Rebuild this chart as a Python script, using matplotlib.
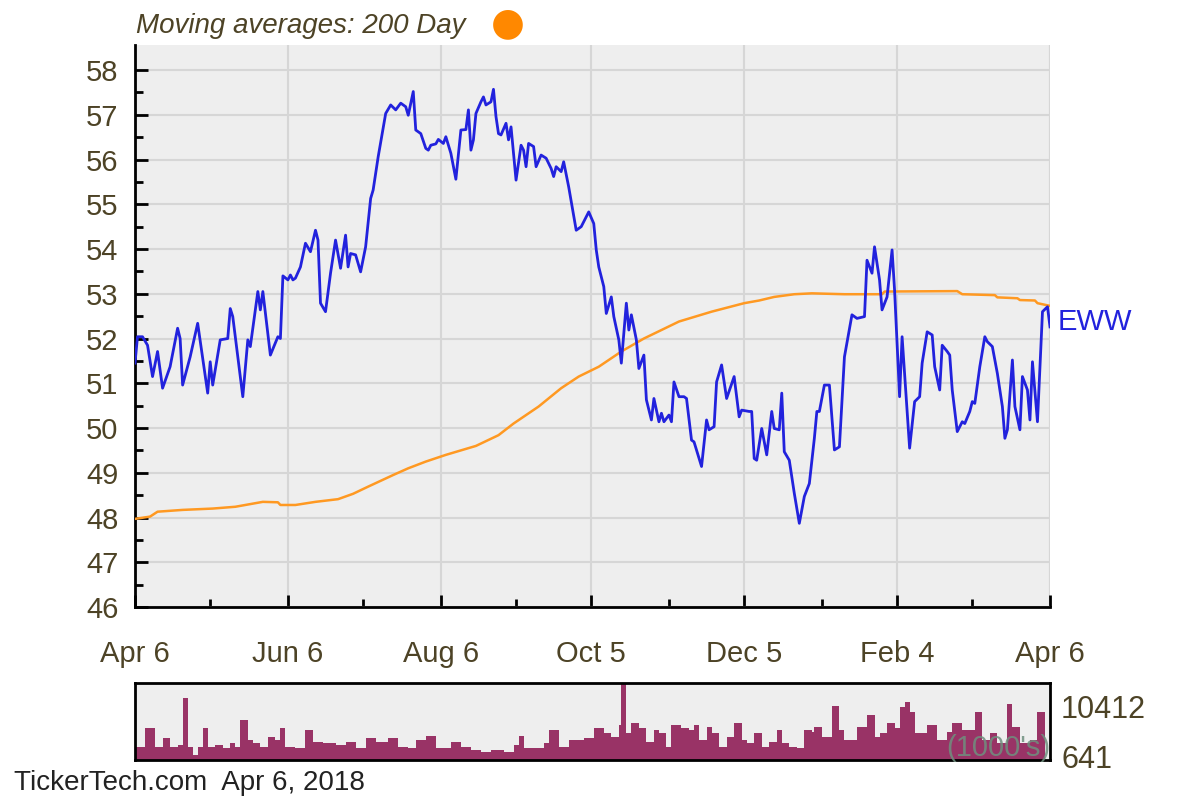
import numpy as np
import matplotlib
matplotlib.use("Agg")
import matplotlib.pyplot as plt
from matplotlib.ticker import FixedLocator, NullFormatter

# --- data (days after 2017-04-06) ---
start = np.datetime64("2017-04-06")

price_days = [0, 1, 3, 5, 7, 9, 11, 14, 17, 18, 19, 22, 25, 29, 30, 31, 34, 37, 38, 39,
              43, 45, 46, 49, 50, 51, 54, 57, 58, 59, 61, 62, 63, 64, 66, 68, 70, 72, 73, 74,
              76, 78, 80, 82, 84, 85, 86, 88, 90, 92, 94, 95, 97, 100, 102, 104, 106, 108, 109, 111,
              112, 114, 116, 117, 118, 120, 121, 123, 124, 126, 128, 130, 132, 133, 134, 135, 136, 138, 139, 140,
              142, 143, 144, 145, 146, 148, 149, 150, 152, 154, 155, 156, 157, 159, 160, 162, 164, 166, 167, 168,
              170, 171, 173, 176, 178, 181, 183, 184, 185, 187, 188, 190, 191, 193, 194, 196, 197, 198, 200, 201,
              203, 204, 206, 207, 209, 210, 211, 213, 214, 215, 217, 219, 220, 222, 223, 226, 228, 229, 231, 232,
              234, 236, 239, 241, 242, 245, 246, 247, 248, 250, 252, 254, 255, 257, 258, 259, 261, 263, 265, 267,
              269, 271, 272, 273, 275, 277, 279, 281, 283, 286, 288, 291, 292, 294, 295, 297, 298, 300, 302, 303,
              305, 306, 309, 311, 313, 314, 316, 318, 319, 321, 322, 324, 325, 326, 328, 330, 331, 333, 334, 335,
              337, 339, 340, 342, 344, 346, 347, 348, 350, 351, 353, 354, 356, 357, 358, 360, 362, 364, 365]
price_vals = [51.45, 52.04, 52.04, 51.85, 51.15, 51.71, 50.89, 51.37, 52.23, 52.00, 50.96, 51.59, 52.34, 50.78, 51.48, 50.96, 51.97, 52.00, 52.67, 52.49,
              50.70, 51.97, 51.82, 53.05, 52.64, 53.05, 51.63, 52.04, 52.00, 53.40, 53.31, 53.42, 53.31, 53.35, 53.60, 54.13, 53.94, 54.42, 54.20, 52.79,
              52.60, 53.46, 54.20, 53.57, 54.31, 53.60, 53.90, 53.87, 53.49, 54.05, 55.13, 55.32, 56.06, 57.03, 57.22, 57.11, 57.26, 57.18, 56.99, 57.52,
              56.66, 56.58, 56.25, 56.21, 56.32, 56.35, 56.45, 56.36, 56.51, 56.14, 55.56, 56.66, 56.67, 57.11, 56.21, 56.44, 57.03, 57.29, 57.40, 57.22,
              57.29, 57.57, 56.96, 56.58, 56.55, 56.81, 56.44, 56.73, 55.54, 56.32, 56.21, 55.84, 56.36, 56.29, 55.84, 56.10, 56.03, 55.80, 55.62, 55.84,
              55.73, 55.95, 55.39, 54.42, 54.50, 54.83, 54.57, 53.98, 53.60, 53.16, 52.56, 52.93, 52.49, 51.97, 51.45, 52.79, 52.19, 52.53, 51.97, 51.33,
              51.63, 50.63, 50.18, 50.66, 50.14, 50.33, 50.14, 50.29, 50.14, 51.03, 50.70, 50.70, 50.66, 49.73, 49.69, 49.14, 50.18, 49.96, 50.03, 51.03,
              51.41, 50.66, 51.15, 50.25, 50.40, 50.37, 50.37, 49.32, 49.28, 49.99, 49.40, 50.37, 49.99, 49.96, 50.78, 49.47, 49.28, 48.54, 47.87, 48.47,
              48.76, 49.77, 50.37, 50.37, 50.96, 50.96, 49.51, 49.58, 51.59, 52.53, 52.45, 52.49, 53.75, 53.46, 54.05, 53.31, 52.64, 52.93, 53.98, 53.08,
              50.70, 52.04, 49.55, 50.59, 50.70, 51.45, 52.15, 52.08, 51.37, 50.85, 51.85, 51.71, 51.63, 50.85, 49.92, 50.14, 50.10, 50.37, 50.59, 50.55,
              51.37, 52.04, 51.93, 51.82, 51.22, 50.48, 49.77, 49.96, 51.52, 50.48, 49.96, 51.15, 50.85, 50.18, 51.48, 50.14, 52.60, 52.71, 52.26]

ma_days = [0, 6, 9, 19, 31, 40, 51, 57, 58, 64, 72, 81, 87, 93, 103, 109, 116, 124, 136, 145,
           151, 161, 170, 177, 185, 194, 203, 217, 230, 243, 249, 255, 263, 270, 283, 298, 299, 328, 330, 343,
           344, 352, 353, 359, 360, 365]
ma_vals = [47.97, 48.02, 48.13, 48.17, 48.20, 48.24, 48.35, 48.34, 48.28, 48.28, 48.35, 48.41, 48.53, 48.69, 48.95, 49.10, 49.25, 49.40, 49.60, 49.84,
           50.10, 50.48, 50.89, 51.15, 51.37, 51.71, 52.00, 52.38, 52.60, 52.79, 52.85, 52.93, 52.99, 53.01, 52.99, 52.99, 53.05, 53.06, 52.99, 52.97,
           52.92, 52.90, 52.86, 52.85, 52.79, 52.73]

vol_days = [0, 4, 7, 8, 11, 14, 17, 19, 21, 23, 25, 27, 29, 32, 35, 38, 40, 42, 45, 47,
            50, 53, 56, 58, 60, 64, 68, 71, 75, 80, 84, 88, 92, 96, 101, 105, 109, 112, 116, 120,
            126, 130, 134, 138, 142, 147, 151, 153, 155, 159, 163, 165, 169, 173, 179, 183, 187, 190, 193, 194,
            196, 198, 201, 204, 207, 209, 212, 214, 218, 221, 223, 225, 228, 230, 233, 236, 239, 242, 244, 247,
            250, 253, 256, 258, 261, 264, 267, 270, 271, 274, 278, 281, 283, 288, 292, 295, 297, 300, 303, 305,
            307, 309, 311, 316, 320, 324, 326, 330, 335, 338, 341, 344, 348, 350, 353, 357, 360, 363]
vol_vals = [2571, 6106, 6106, 2571, 4178, 2571, 2892, 11890, 2571, 964, 2571, 6106, 2571, 2892, 2249, 3214, 2571, 7712, 3856, 3214,
            2571, 4499, 3856, 6106, 2571, 2249, 5784, 3535, 3214, 2892, 3535, 2249, 4178, 3535, 4178, 2571, 2249, 3856, 4627, 2249,
            3535, 2571, 1928, 1607, 1928, 1607, 2892, 4627, 2249, 2249, 3214, 5784, 2571, 3856, 4178, 6106, 5142, 4499, 6748, 14800,
            5142, 7070, 6106, 3535, 5784, 5142, 2571, 6748, 6106, 5784, 6748, 3856, 6427, 5142, 2571, 4499, 7070, 3856, 3214, 5142,
            2571, 3535, 5784, 3214, 2571, 2249, 5784, 5463, 6427, 4499, 10412, 5784, 3856, 6427, 8676, 4499, 5142, 7070, 6106, 10283,
            11247, 9319, 5142, 6748, 3856, 5463, 7070, 5784, 9319, 3856, 5142, 3214, 10797, 6427, 3214, 3856, 9319, 7070]

tick_days = [0, 61, 122, 182, 243, 304, 365]
tick_labels = ["Apr 6", "Jun 6", "Aug 6", "Oct 5", "Dec 5", "Feb 4", "Apr 6"]
minor_days = [30, 91, 152, 213, 274, 334]
vol_ticks = [641, 10412]

def to_dates(days):
    return start + np.array(days, dtype="timedelta64[D]")

txt = "#4d4326"
plt.rcParams["font.family"] = ["Liberation Sans", "DejaVu Sans"]

fig = plt.figure(figsize=(12, 8), dpi=100)
ax = fig.add_axes([0.1125, 0.24125, 0.7625, 0.70250])
axv = fig.add_axes([0.1125, 0.05, 0.7625, 0.09625])

for a in (ax, axv):
    a.set_facecolor("#eeeeee")

# price + moving average
ax.plot(to_dates(ma_days), ma_vals, color="#ff9922", lw=1.8, zorder=3)
ax.plot(to_dates(price_days), price_vals, color="#2222dd", lw=2.0, zorder=4)

x0, x1 = to_dates([0])[0], to_dates([365])[0]
ax.set_xlim(x0, x1)
ax.set_ylim(46, 58.56)
ax.set_yticks(range(46, 59))
ax.yaxis.set_minor_locator(FixedLocator(np.arange(46.5, 58.5, 1.0)))
ax.set_xticks(to_dates(tick_days))
ax.set_xticklabels(tick_labels)
ax.xaxis.set_minor_locator(FixedLocator(matplotlib.dates.date2num(to_dates(minor_days))))
ax.xaxis.set_minor_formatter(NullFormatter())

ax.grid(True, which="major", color="#d6d6d6", lw=1.5)
ax.axvline(x1, color="#d6d6d6", lw=1.5, zorder=1)
for s in ("top", "right"):
    ax.spines[s].set_visible(False)
for s in ("left", "bottom"):
    ax.spines[s].set_linewidth(2)
ax.tick_params(axis="both", which="major", direction="in", length=9, width=2,
               labelsize=21, labelcolor=txt)
ax.tick_params(axis="both", which="minor", direction="in", length=6, width=2)
ax.tick_params(axis="y", pad=12)
ax.tick_params(axis="x", pad=24)

ax.text(1.008, price_vals[-1] + 0.1, "EWW", transform=ax.get_yaxis_transform(),
        color="#2222dd", fontsize=21, va="center", ha="left")

fig.text(0.113, 0.968, "Moving averages: 200 Day", fontsize=20, style="italic",
         color=txt, ha="left", va="center")
fig.text(0.423, 0.971, "\u25cf", fontsize=28, color="#ff8800", ha="center", va="center",
         family="DejaVu Sans")

# volume
axv.fill_between(to_dates(vol_days), vol_vals, step="post", color="#993366", lw=0)
axv.set_xlim(x0, x1)
axv.set_ylim(0, 14850)
axv.set_xticks([])
axv.yaxis.tick_right()
axv.set_yticks(vol_ticks)
axv.set_yticklabels([str(v) for v in vol_ticks])
axv.tick_params(axis="y", length=0, labelsize=22, labelcolor=txt, pad=8)
for s in axv.spines.values():
    s.set_linewidth(2)
axv.text(1.0, 0.15, "(1000's)", transform=axv.transAxes, ha="right", va="center",
         fontsize=21, color="#6f8f7e", alpha=0.85)

fig.text(0.012, 0.021, "TickerTech.com  Apr 6, 2018", fontsize=20, color="#222222",
         ha="left", va="center")

fig.savefig("out.png", dpi=100, facecolor="white")
